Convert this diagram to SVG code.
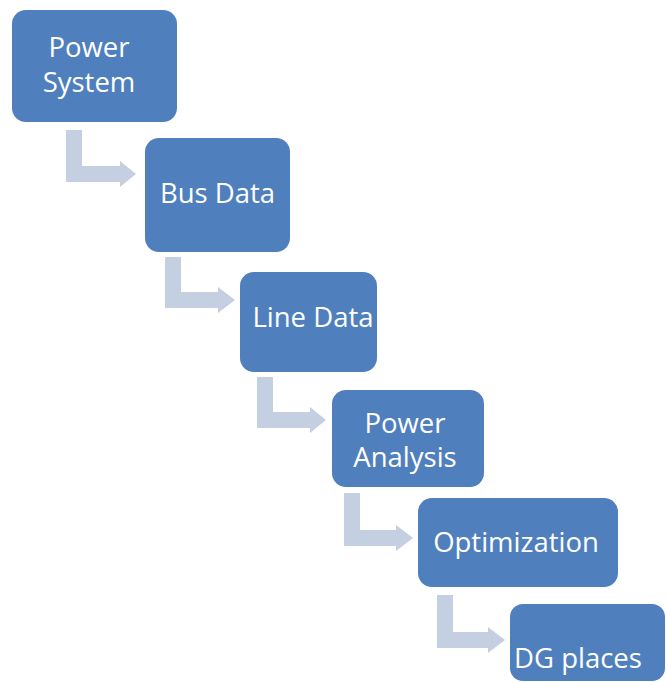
<svg xmlns="http://www.w3.org/2000/svg" width="666" height="682" viewBox="0 0 666 682">
<style>
.box{fill:#4f7fbd;}
.arr{fill:#c5cfe2;}
.t{fill:#ffffff;font-family:"Open Sans","Noto Sans",sans-serif;font-size:27.5px;text-anchor:middle;}
</style>
<rect width="666" height="682" fill="#ffffff"/>
<g id="connectors">
<path class="arr" d="M66,130 H82 V166 H120 V161 L136,174 L120,187 V182 H66 Z"/>
<path class="arr" d="M165,257 H181 V292 H218 V287 L235,300 L218,313 V308 H165 Z"/>
<path class="arr" d="M257,377 H273 V412 H310 V407 L326,420 L310,433 V428 H257 Z"/>
<path class="arr" d="M344,493 H360 V530 H396 V525 L413,538 L396,551 V546 H344 Z"/>
<path class="arr" d="M437,595 H453 V632 H488 V627 L505,640 L488,653 V648 H437 Z"/>
</g>
<g id="n1"><rect class="box" x="12" y="10" width="165" height="112" rx="14"/>
<text class="t" x="89" y="57">Power</text><text class="t" x="89" y="92">System</text></g>
<g id="n2"><rect class="box" x="145" y="138" width="145" height="114" rx="14"/>
<text class="t" x="217.5" y="203">Bus Data</text></g>
<g id="n3"><rect class="box" x="240" y="272" width="137" height="100" rx="14"/>
<text class="t" x="313" y="327">Line Data</text></g>
<g id="n4"><rect class="box" x="332" y="390" width="152" height="97" rx="14"/>
<text class="t" x="405" y="433">Power</text><text class="t" x="405" y="467">Analysis</text></g>
<g id="n5"><rect class="box" x="418" y="498" width="200" height="89" rx="14"/>
<text class="t" x="516" y="552">Optimization</text></g>
<g id="n6"><rect class="box" x="510" y="604" width="155" height="77" rx="13"/>
<text class="t" x="578" y="668">DG places</text></g>
</svg>
